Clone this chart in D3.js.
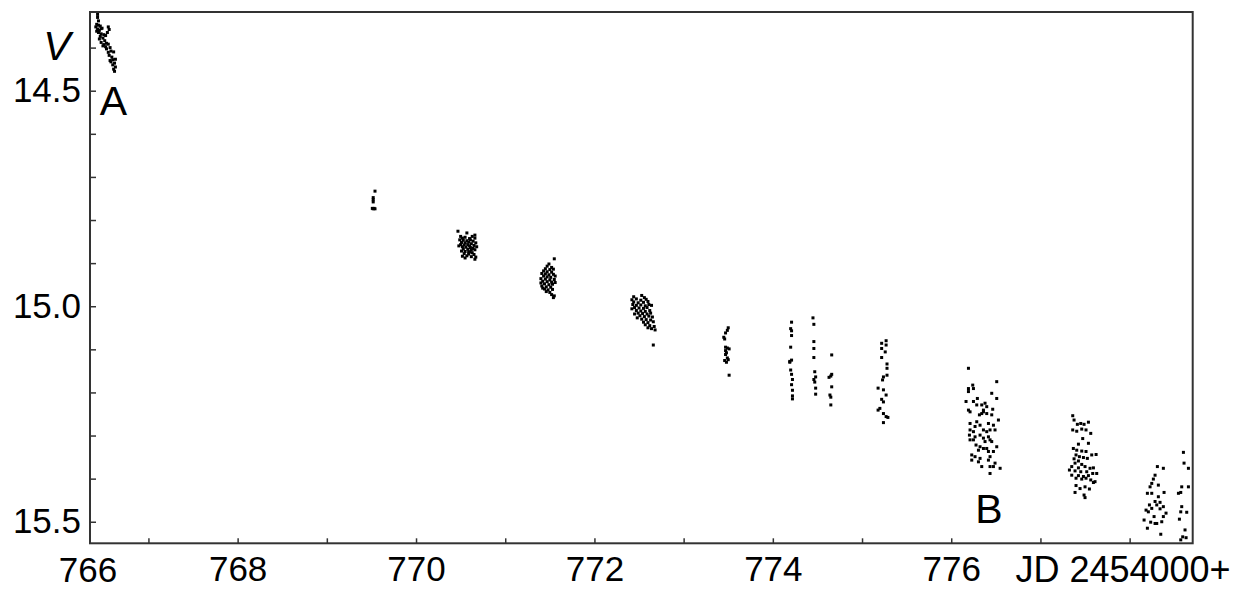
<!DOCTYPE html>
<html lang="en">
<head>
<meta charset="UTF-8">
<title>V light curve</title>
<script src="https://d3js.org/d3.v7.min.js"></script>
<style>
  body { margin: 0; background: #fff; }
  svg { display: block; }
  text { font-family: "Liberation Sans", Arial, sans-serif; fill: #000; }
</style>
</head>
<body>
<svg width="1242" height="592"></svg>
<script>
// observing runs, [JD - 2454000, V]
const runA = [
  [766.43,14.323],[766.43,14.330],[766.44,14.338],[766.42,14.346],[766.44,14.348],[766.46,14.350],
  [766.41,14.352],[766.47,14.356],[766.43,14.357],[766.45,14.360],[766.48,14.355],[766.55,14.352],
  [766.56,14.358],[766.54,14.365],[766.44,14.365],[766.47,14.368],[766.50,14.370],[766.46,14.374],
  [766.52,14.372],[766.49,14.378],[766.45,14.380],[766.51,14.384],[766.47,14.388],[766.53,14.390],
  [766.50,14.393],[766.55,14.392],[766.49,14.396],[766.57,14.400],[766.53,14.403],[766.58,14.408],
  [766.55,14.411],[766.61,14.410],[766.56,14.418],[766.59,14.422],[766.60,14.428],[766.63,14.427],
  [766.58,14.433],[766.62,14.436],[766.60,14.440],[766.63,14.445],[766.61,14.450],[766.62,14.455],
  [766.42,14.362],[766.52,14.398],[766.57,14.430]
];
const run769 = [
  [769.54,14.733],[769.52,14.748],[769.52,14.753],[769.52,14.758],[769.51,14.773],[769.52,14.774],
  [769.53,14.773],[769.54,14.774]
];
const run770 = [
  [770.47,14.826],[770.57,14.830],[770.66,14.835],[770.50,14.838],[770.63,14.838],[770.52,14.842],
  [770.55,14.840],[770.60,14.843],[770.66,14.842],[770.49,14.846],[770.53,14.847],[770.57,14.848],
  [770.61,14.846],[770.64,14.849],[770.51,14.852],[770.55,14.853],[770.59,14.851],[770.62,14.855],
  [770.67,14.853],[770.50,14.857],[770.54,14.858],[770.58,14.857],[770.60,14.860],[770.65,14.859],
  [770.52,14.862],[770.56,14.863],[770.61,14.864],[770.64,14.866],[770.53,14.867],[770.58,14.868],
  [770.62,14.870],[770.66,14.869],[770.51,14.872],[770.55,14.873],[770.60,14.874],[770.63,14.876],
  [770.54,14.878],[770.59,14.879],[770.65,14.880],[770.52,14.884],[770.57,14.883],[770.62,14.885],
  [770.67,14.886],[770.55,14.888],[770.66,14.891],[770.59,14.874],[770.48,14.860],[770.68,14.862]
];
const run771 = [
  [771.55,14.890],[771.49,14.902],[771.47,14.907],[771.52,14.910],[771.45,14.913],[771.50,14.915],
  [771.54,14.914],[771.43,14.918],[771.47,14.920],[771.52,14.921],[771.41,14.924],[771.45,14.925],
  [771.49,14.927],[771.54,14.926],[771.43,14.930],[771.47,14.932],[771.51,14.933],[771.40,14.936],
  [771.45,14.937],[771.50,14.939],[771.55,14.938],[771.42,14.942],[771.47,14.943],[771.52,14.944],
  [771.44,14.948],[771.49,14.950],[771.53,14.949],[771.41,14.953],[771.46,14.955],[771.51,14.956],
  [771.44,14.960],[771.48,14.962],[771.53,14.961],[771.46,14.966],[771.50,14.968],[771.52,14.973],
  [771.55,14.976],[771.54,14.980],[771.42,14.958],[771.56,14.945],[771.56,14.930],[771.40,14.946]
];
const run772 = [
  [772.44,14.978],[772.53,14.975],[772.56,14.980],[772.42,14.985],[772.47,14.983],[772.52,14.986],
  [772.58,14.984],[772.44,14.990],[772.49,14.992],[772.55,14.991],[772.60,14.989],[772.43,14.996],
  [772.47,14.998],[772.52,14.997],[772.57,14.999],[772.61,14.996],[772.45,15.003],[772.50,15.004],
  [772.55,15.005],[772.59,15.003],[772.47,15.010],[772.52,15.011],[772.57,15.012],[772.62,15.010],
  [772.49,15.016],[772.54,15.017],[772.59,15.018],[772.63,15.016],[772.51,15.022],[772.56,15.024],
  [772.61,15.023],[772.65,15.025],[772.53,15.030],[772.58,15.031],[772.63,15.032],[772.55,15.037],
  [772.60,15.038],[772.66,15.036],[772.57,15.043],[772.62,15.045],[772.67,15.047],[772.64,15.052],
  [772.68,15.055],[772.66,15.090],[772.42,15.006],[772.45,15.018],[772.48,15.027],[772.64,14.998],
  [772.60,15.050]
];
const run773 = [
  [773.50,15.050],[773.49,15.056],[773.47,15.062],[773.45,15.072],[773.46,15.076],[773.47,15.095],
  [773.49,15.097],[773.51,15.099],[773.47,15.103],[773.48,15.108],[773.47,15.112],[773.49,15.120],
  [773.46,15.126],[773.50,15.124],[773.48,15.130],[773.51,15.160]
];
const run774a = [
  [774.21,15.037],[774.20,15.052],[774.21,15.057],[774.21,15.068],[774.20,15.095],[774.19,15.128],
  [774.21,15.125],[774.20,15.148],[774.21,15.158],[774.22,15.170],[774.21,15.182],[774.22,15.195],
  [774.22,15.208],[774.22,15.215],[774.19,15.130]
];
const run774b = [
  [774.45,15.027],[774.46,15.042],[774.46,15.082],[774.46,15.098],[774.46,15.119],[774.47,15.152],
  [774.48,15.164],[774.46,15.170],[774.47,15.176],[774.48,15.190],[774.48,15.204]
];
const run774c = [
  [774.66,15.113],[774.66,15.158],[774.65,15.162],[774.63,15.165],[774.66,15.187],[774.64,15.206],
  [774.65,15.211],[774.65,15.229]
];
const run775 = [
  [775.27,15.080],[775.22,15.086],[775.27,15.090],[775.22,15.098],[775.26,15.106],[775.22,15.119],
  [775.28,15.134],[775.28,15.144],[775.24,15.164],[775.28,15.160],[775.23,15.171],[775.18,15.190],
  [775.24,15.194],[775.27,15.206],[775.22,15.216],[775.24,15.222],[775.20,15.237],[775.18,15.241],
  [775.24,15.249],[775.27,15.256],[775.29,15.258],[775.24,15.270]
];
const run776 = [
  [776.193,15.144],[776.510,15.175],[776.193,15.191],[776.193,15.198],[776.241,15.183],[776.249,15.191],
  [776.454,15.202],[776.510,15.214],[776.166,15.221],[776.249,15.221],[776.293,15.214],[776.286,15.229],
  [776.342,15.229],[776.379,15.225],[776.398,15.233],[776.361,15.241],[776.465,15.239],[776.193,15.241],
  [776.211,15.245],[776.342,15.249],[776.361,15.245],[776.398,15.249],[776.316,15.252],[776.454,15.252],
  [776.529,15.264],[776.211,15.272],[776.286,15.268],[776.323,15.276],[776.267,15.279],[776.417,15.272],
  [776.473,15.276],[776.211,15.287],[776.249,15.291],[776.361,15.287],[776.398,15.291],[776.435,15.287],
  [776.491,15.287],[776.204,15.299],[776.267,15.303],[776.323,15.299],[776.361,15.306],[776.417,15.303],
  [776.435,15.310],[776.211,15.310],[776.249,15.310],[776.379,15.314],[776.454,15.314],[776.278,15.322],
  [776.323,15.326],[776.361,15.330],[776.305,15.334],[776.398,15.330],[776.510,15.326],[776.417,15.337],
  [776.473,15.337],[776.230,15.345],[776.267,15.349],[776.323,15.353],[776.435,15.349],[776.305,15.361],
  [776.417,15.357],[776.230,15.357],[776.491,15.364],[776.435,15.372],[776.342,15.372],[776.473,15.372],
  [776.548,15.376],[776.435,15.388]
];
const run777 = [
  [777.362,15.254],[777.377,15.264],[777.414,15.274],[777.452,15.272],[777.489,15.274],[777.538,15.269],
  [777.362,15.287],[777.407,15.290],[777.463,15.285],[777.511,15.287],[777.564,15.295],[777.474,15.307],
  [777.426,15.320],[777.538,15.318],[777.369,15.330],[777.407,15.334],[777.463,15.336],[777.511,15.337],
  [777.575,15.345],[777.624,15.344],[777.399,15.345],[777.437,15.349],[777.482,15.351],[777.377,15.354],
  [777.526,15.353],[777.426,15.359],[777.388,15.364],[777.463,15.367],[777.351,15.372],[777.426,15.375],
  [777.500,15.372],[777.556,15.376],[777.594,15.375],[777.325,15.380],[777.388,15.382],[777.452,15.384],
  [777.519,15.384],[777.586,15.388],[777.631,15.388],[777.351,15.392],[777.426,15.393],[777.482,15.395],
  [777.538,15.393],[777.399,15.399],[777.463,15.401],[777.511,15.399],[777.564,15.403],[777.594,15.409],
  [777.612,15.407],[777.399,15.416],[777.444,15.423],[777.500,15.419],[777.549,15.424],[777.388,15.432],
  [777.489,15.438],[777.500,15.444]
];
const run778a = [
  [778.311,15.372],[778.378,15.376],[778.285,15.392],[778.266,15.401],[778.248,15.411],[778.322,15.415],
  [778.229,15.419],[778.386,15.432],[778.199,15.434],[778.248,15.434],[778.322,15.442],[778.285,15.453],
  [778.341,15.455],[778.222,15.461],[778.304,15.461],[778.378,15.465],[778.184,15.473],[778.248,15.469],
  [778.341,15.470],[778.210,15.477],[778.408,15.480],[778.274,15.488],[778.378,15.488],[778.162,15.496],
  [778.236,15.501],[778.304,15.504],[778.199,15.515],[778.349,15.529],[778.285,15.504],[778.360,15.500]
];
const run778b = [
  [778.603,15.339],[778.610,15.364],[778.659,15.376],[778.584,15.419],[778.659,15.419],[778.547,15.434],
  [778.573,15.432],[778.584,15.465],[778.640,15.478],[778.573,15.477],[778.558,15.494],[778.621,15.519],
  [778.595,15.535],[778.633,15.537],[778.573,15.542]
];
const runs = [runA, run769, run770, run771, run772, run773, run774a, run774b, run774c,
              run775, run776, run777, run778a, run778b];

const xTicks = [767, 768, 769, 770, 771, 772, 773, 774, 775, 776, 777, 778];
const xLabeled = [768, 770, 772, 774, 776];
const yTicks = [14.4, 14.5, 14.6, 14.7, 14.8, 14.9, 15.0, 15.1, 15.2, 15.3, 15.4, 15.5];
const yLabeled = [14.5, 15.0, 15.5];
const xDomain = [766.345, 778.707];
const yDomain = [14.3174, 15.550];

const svg = d3.select("svg");
const plotL = 90, plotR = 1192.7, plotT = 12, plotB = 543.3;

const x = d3.scaleLinear().domain(xDomain).range([plotL, plotR]);
const y = d3.scaleLinear().domain(yDomain).range([plotT, plotB]);

// points
const pts = runs.flat();
svg.append("g")
    .selectAll("rect")
    .data(pts)
    .enter()
    .append("rect")
    .attr("x", function (d) { return x(d[0]) - 1.5; })
    .attr("y", function (d) { return y(d[1]) - 1.5; })
    .attr("width", 3)
    .attr("height", 3)
    .attr("fill", "#000");

// axes, ticks point inward
const xAxis = svg.append("g")
    .attr("transform", "translate(0," + plotB + ")")
    .call(d3.axisBottom(x)
        .tickValues(xTicks)
        .tickSizeInner(-5)
        .tickSizeOuter(0)
        .tickPadding(13)
        .tickFormat(function (d) { return xLabeled.includes(d) ? d : ""; }));

const yAxis = svg.append("g")
    .attr("transform", "translate(" + plotL + ",0)")
    .call(d3.axisLeft(y)
        .tickValues(yTicks)
        .tickSizeInner(-6)
        .tickSizeOuter(0)
        .tickPadding(9)
        .tickFormat(function (d) {
            return yLabeled.some(function (v) { return Math.abs(v - d) < 1e-6; }) ? d3.format(".1f")(d) : "";
        }));

[xAxis, yAxis].forEach(function (g) {
    g.select(".domain").remove();
    g.selectAll(".tick line").attr("stroke", "#333").attr("stroke-width", 1.5);
    g.selectAll(".tick text").style("font-size", "35px").attr("fill", "#000");
});

// frame
svg.append("rect")
    .attr("x", plotL).attr("y", plotT)
    .attr("width", plotR - plotL).attr("height", plotB - plotT)
    .attr("fill", "none")
    .attr("stroke", "#333")
    .attr("stroke-width", 2);

// extra labels
svg.append("text")
    .attr("x", 88).attr("y", 581.5)
    .attr("text-anchor", "middle")
    .style("font-size", "35px")
    .text("766");

svg.append("text")
    .attr("x", 1123).attr("y", 582)
    .attr("text-anchor", "middle")
    .style("font-size", "36px")
    .text("JD 2454000+");

svg.append("text")
    .attr("x", 57).attr("y", 60)
    .attr("text-anchor", "middle")
    .style("font-size", "41px")
    .style("font-style", "italic")
    .text("V");

svg.append("text")
    .attr("x", 113.5).attr("y", 115)
    .attr("text-anchor", "middle")
    .style("font-size", "41px")
    .text("A");

svg.append("text")
    .attr("x", 989).attr("y", 523)
    .attr("text-anchor", "middle")
    .style("font-size", "41px")
    .text("B");
</script>
</body>
</html>
